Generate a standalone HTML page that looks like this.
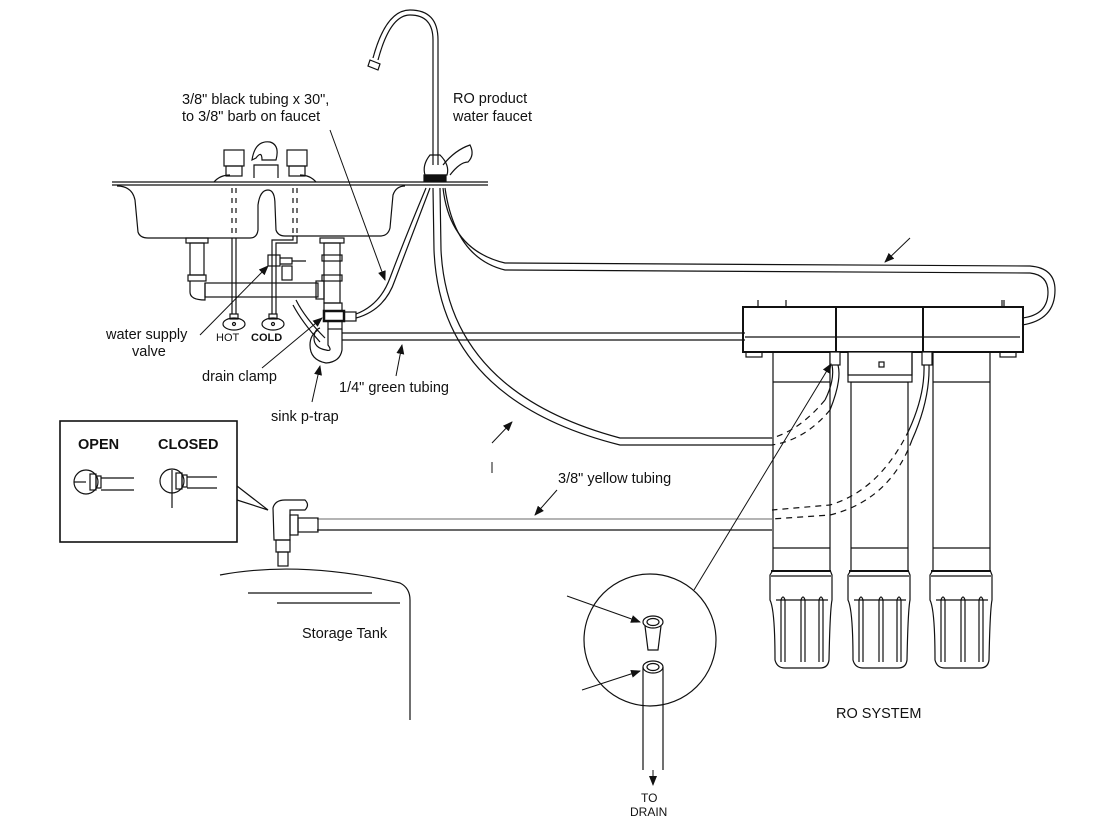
<!DOCTYPE html>
<html><head><meta charset="utf-8"><style>
html,body{margin:0;padding:0;background:#fff;}
svg{display:block;}
text{font-family:"Liberation Sans",sans-serif;font-size:14.5px;fill:#111;}
</style></head><body>
<svg width="1116" height="822" viewBox="0 0 1116 822" xmlns="http://www.w3.org/2000/svg">
<defs>
<marker id="ah" markerWidth="10" markerHeight="8" refX="9" refY="4" orient="auto" markerUnits="userSpaceOnUse">
<path d="M0,0 L10,4 L0,8 Z" fill="#111"/></marker>
</defs>
<g fill="none" stroke="#111" stroke-width="1.2">
<line x1="112" y1="182" x2="488" y2="182"/>
<line x1="112" y1="185" x2="488" y2="185"/>
<path d="M117,186 Q132,186 135,200 L138,232 Q140,238 148,238 L250,238 Q257,238 258,230 L258,205 Q260,190 268,190 Q275,190 275,205 L276,230 Q278,236 285,236 L380,236 Q388,236 390,228 L393,195 Q396,186 405,186"/>
<rect x="224" y="150" width="20" height="16"/><rect x="226" y="166" width="16" height="10"/>
<rect x="287" y="150" width="20" height="16"/><rect x="289" y="166" width="16" height="10"/>
<path d="M254,178 L254,165 L278,165 L278,178"/><path d="M252,160 Q255,140 270,142 Q280,145 276,160 L262,160 Q262,150 256,158 Z"/>
<path d="M214,182 Q220,175 230,175 M300,175 Q310,175 316,182"/>
<line x1="232" y1="188" x2="232" y2="235" stroke-dasharray="5,5"/><line x1="236" y1="188" x2="236" y2="235" stroke-dasharray="5,5"/>
<line x1="293" y1="188" x2="293" y2="235" stroke-dasharray="5,5"/><line x1="297" y1="188" x2="297" y2="235" stroke-dasharray="5,5"/>
<line x1="232" y1="238" x2="232" y2="314"/><line x1="236" y1="238" x2="236" y2="314"/>
<path d="M297,236 L297,243 L276,243 L276,314 M293,236 L293,240 L272,240 L272,314"/>
<ellipse cx="234" cy="324" rx="11" ry="6"/><rect x="230" y="314" width="8" height="5"/>
<ellipse cx="273" cy="324" rx="11" ry="6"/><rect x="269" y="314" width="8" height="5"/>
<circle cx="234" cy="324" r="1.5"/><circle cx="273" cy="324" r="1.5"/>
<rect x="268" y="255" width="12" height="11"/><path d="M280,258 L292,258 L292,264 L280,264 M292,261 L306,261"/>
<rect x="282" y="266" width="10" height="14"/>
<rect x="186" y="238" width="22" height="5"/><rect x="190" y="243" width="14" height="32"/><rect x="188" y="275" width="18" height="6"/>
<path d="M190,281 L190,292 Q190,300 205,300 L205,283"/>
<rect x="205" y="283" width="113" height="14"/><rect x="316" y="281" width="8" height="18"/>
<rect x="320" y="238" width="24" height="5"/><rect x="324" y="243" width="16" height="60"/>
<rect x="322" y="255" width="20" height="6"/><rect x="322" y="275" width="20" height="6"/>
<rect x="324" y="303" width="18" height="8"/>
<rect x="324" y="311" width="20" height="10" stroke-width="2.5"/><rect x="344" y="312" width="12" height="9"/>
<rect x="328" y="321" width="14" height="8"/>
<path d="M328,329 L328,345 Q333,352 326,350 Q314,348 314,338 Q314,330 320,328 M342,329 L342,350 Q340,362 326,363 Q310,360 310,345 Q310,335 318,330"/>
<path d="M296,300 Q305,318 325,338"/><path d="M293,305 Q302,322 320,342"/>
<path d="M356,318 Q385,310 395,280 Q410,240 430,188"/>
<path d="M356,314 Q380,305 390,278 Q405,238 426,188"/>
<line x1="342" y1="333" x2="745" y2="333"/><line x1="342" y1="340" x2="745" y2="340"/>
<path d="M433,165 L433,40 Q433,15 410,15 Q390,15 378,60"/>
<path d="M438,165 L438,40 Q438,10 410,10 Q386,10 373,58"/>
<path d="M370,60 L380,64 L378,70 L368,66 Z"/>
<path d="M430,155 Q422,165 425,175 L447,175 Q450,165 440,155 Z"/>
<path d="M443,165 Q455,150 470,145 Q475,155 468,162 Q460,162 450,175"/>
<rect x="424" y="175" width="22" height="6" fill="#111"/>
<path d="M433,188 L434,250 Q440,400 620,445 L772,445"/>
<path d="M440,188 L441,250 Q448,392 620,438 L772,438"/>
<path d="M443,188 Q450,250 505,263 L1030,266 Q1055,268 1055,290 Q1055,320 1022,325"/>
<path d="M445,188 Q455,258 505,270 L1030,273 Q1048,275 1048,292 Q1048,315 1022,318"/>
<rect x="743" y="307" width="280" height="45" stroke-width="2"/>
<line x1="745" y1="337" x2="1020" y2="337"/>
<line x1="836" y1="307" x2="836" y2="352" stroke-width="2"/><line x1="923" y1="307" x2="923" y2="352" stroke-width="2"/>
<line x1="758" y1="300" x2="758" y2="307"/><line x1="786" y1="300" x2="786" y2="307"/>
<line x1="1002" y1="300" x2="1002" y2="307"/><line x1="1004" y1="300" x2="1004" y2="307"/>
<rect x="746" y="352" width="16" height="5"/><rect x="1000" y="352" width="16" height="5"/>
<g id="cart">
<path d="M773,352 L773,570 L770,575 L770,600 Q775,610 775,660 Q777,668 785,668 L820,668 Q828,668 829,660 Q830,610 832,600 L832,575 L830,570 L830,352"/>
<line x1="773" y1="382" x2="830" y2="382"/><line x1="773" y1="548" x2="830" y2="548"/>
<line x1="771" y1="571" x2="831" y2="571" stroke-width="2"/><line x1="771" y1="576" x2="831" y2="576"/>
<line x1="776" y1="600" x2="828" y2="600"/>
<path d="M781,662 L781,600 Q783,594 785,600 L785,662 M801,662 L801,600 Q803,594 805,600 L805,662 M819,662 L819,600 Q821,594 823,600 L823,662"/>
</g>
<use href="#cart" x="78"/>
<use href="#cart" x="160"/>
<rect x="848" y="352" width="64" height="30" fill="#fff"/>
<path d="M848,352 L848,375 L912,375 L912,352"/><rect x="879" y="362" width="5" height="5"/>
<rect x="830" y="352" width="10" height="13" fill="#fff"/><rect x="922" y="352" width="10" height="13" fill="#fff"/>
<path d="M838,365 Q842,380 830,410 M832,365 Q835,380 825,400"/>
<path d="M929,365 Q930,400 912,440 M924,365 Q925,395 909,430"/>
<path d="M825,400 Q800,430 772,438 M830,410 Q805,440 772,445" stroke-dasharray="6,5"/>
<path d="M912,440 Q890,500 830,515 L772,519 M909,430 Q880,490 830,505 L772,510" stroke-dasharray="6,5"/>
<line x1="317" y1="519" x2="772" y2="519" stroke="#888"/><line x1="317" y1="530" x2="772" y2="530"/>
<path d="M273,508 Q275,500 285,500 L305,500 Q310,505 305,510 L290,510 L290,540 L274,540 Z"/>
<rect x="290" y="515" width="8" height="20"/><rect x="298" y="518" width="20" height="14"/>
<rect x="276" y="540" width="14" height="12"/><rect x="278" y="552" width="10" height="14"/>
<path d="M220,575 Q300,560 400,583 Q410,588 410,600 L410,720"/>
<line x1="248" y1="593" x2="372" y2="593"/><line x1="277" y1="603" x2="400" y2="603"/>
<rect x="60" y="421" width="177" height="121" stroke-width="1.6"/>
<path d="M237,486 L268,510 L237,500"/>
<circle cx="86" cy="482" r="12"/><line x1="74" y1="482" x2="86" y2="482"/>
<rect x="90" y="474" width="6" height="16"/><rect x="96" y="476" width="5" height="12"/><path d="M101,478 L134,478 M101,490 L134,490"/>
<circle cx="172" cy="481" r="12"/><line x1="172" y1="470" x2="172" y2="508"/>
<rect x="176" y="473" width="6" height="16"/><rect x="182" y="475" width="5" height="12"/><path d="M187,477 L217,477 M187,488 L217,488"/>
<circle cx="650" cy="640" r="66"/>
<ellipse cx="653" cy="622" rx="10" ry="6"/><ellipse cx="653" cy="622" rx="6" ry="3.5"/>
<path d="M645,626 L648,650 L658,650 L661,626"/>
<ellipse cx="653" cy="667" rx="10" ry="6"/><ellipse cx="653" cy="667" rx="6" ry="3.5"/>
<path d="M643,667 L643,770 M663,667 L663,770"/>
</g>
<g stroke="#111" stroke-width="1" fill="none" marker-end="url(#ah)">
<line x1="330" y1="130" x2="385" y2="280"/>
<line x1="200" y1="335" x2="268" y2="266"/>
<line x1="262" y1="368" x2="322" y2="318"/>
<line x1="312" y1="402" x2="320" y2="366"/>
<line x1="396" y1="376" x2="402" y2="345"/>
<line x1="492" y1="443" x2="512" y2="422"/>
<line x1="557" y1="490" x2="535" y2="515"/>
<line x1="910" y1="238" x2="885" y2="262"/>
<line x1="694" y1="590" x2="831" y2="364"/>
<line x1="567" y1="596" x2="640" y2="622"/>
<line x1="582" y1="690" x2="640" y2="671"/>
<line x1="653" y1="770" x2="653" y2="785"/>
</g>
<line x1="492" y1="462" x2="492" y2="473" stroke="#111"/>
<text x="182" y="104">3/8" black tubing x 30",</text>
<text x="182" y="121">to 3/8" barb on faucet</text>
<text x="453" y="103">RO product</text>
<text x="453" y="121">water faucet</text>
<text x="106" y="339">water supply</text>
<text x="132" y="356">valve</text>
<text x="216" y="341" style="font-size:11px">HOT</text>
<text x="251" y="341" style="font-size:11px;font-weight:bold">COLD</text>
<text x="202" y="381">drain clamp</text>
<text x="271" y="421">sink p-trap</text>
<text x="339" y="392">1/4" green tubing</text>
<text x="558" y="483">3/8" yellow tubing</text>
<text x="78" y="449" style="font-weight:bold">OPEN</text>
<text x="158" y="449" style="font-weight:bold">CLOSED</text>
<text x="302" y="638">Storage Tank</text>
<text x="836" y="718">RO SYSTEM</text>
<text x="641" y="802" style="font-size:12px">TO</text>
<text x="630" y="816" style="font-size:12px">DRAIN</text>
</svg>
</body></html>
